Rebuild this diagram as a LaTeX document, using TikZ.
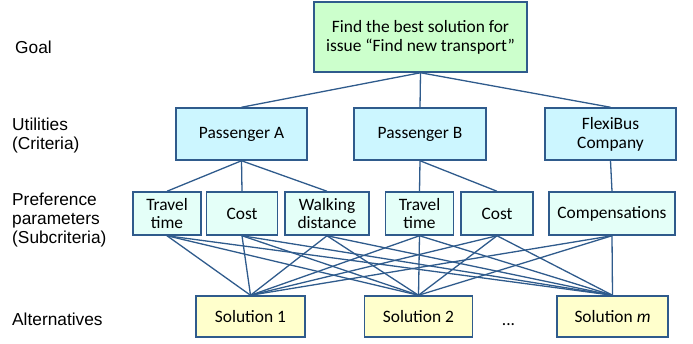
\documentclass[tikz,border=0pt]{standalone}
\usepackage{fontspec}
\setmainfont{Carlito}
\newfontfamily\lblfont{Liberation Sans}
\begin{document}
\begin{tikzpicture}[x=1pt,y=-1pt,
  bx/.style={draw=edgecol, line width=1.5pt, inner sep=0pt, align=center,
    font=\fontsize{17.4}{18.8}\selectfont},
  goalbox/.style={bx, fill=goalfill},
  critbox/.style={bx, fill=critfill, minimum height=52pt},
  subbox/.style={bx, fill=subfill, minimum height=43pt},
  solbox/.style={bx, fill=solfill, minimum height=41pt, minimum width=109pt},
  conn/.style={draw=edgecol, line width=1.3pt},
  lbl/.style={anchor=base west, align=left, inner sep=0pt, font=\lblfont\fontsize{17.3}{19.2}\selectfont}
]
\definecolor{edgecol}{HTML}{2F5B8C}
\definecolor{goalfill}{HTML}{CCFFCC}
\definecolor{critfill}{HTML}{CCF6FF}
\definecolor{subfill}{HTML}{E4FFF8}
\definecolor{solfill}{HTML}{FFFFCC}
\useasboundingbox (0,0) rectangle (693,343);

% left labels (base = baseline of last line)
\node[lbl] (lgoal) at (15,53.3) {Goal};
\node[lbl] (lcrit) at (12,149.5) {Utilities\\(Criteria)};
\node[lbl] (lsub) at (12,243.5) {Preference\\parameters\\(Subcriteria)};
\node[lbl] (lalt) at (12,325) {Alternatives};

% goal
\node[goalbox, minimum width=213pt, minimum height=70pt] (goal) at (420.5,37)
  {Find the best solution for\\issue “Find new transport”};

% criteria
\node[critbox, minimum width=131pt] (pa) at (241.5,134) {Passenger A};
\node[critbox, minimum width=132pt] (pb) at (420,134) {Passenger B};
\node[critbox, minimum width=131pt] (fb) at (610.5,134) {FlexiBus\\Company};

% subcriteria
\node[subbox, minimum width=68pt] (tt1) at (167,213.5) {Travel\\time};
\node[subbox, minimum width=71pt] (c1) at (242,213.5) {Cost};
\node[subbox, minimum width=84pt] (wd) at (327,213.5) {Walking\\distance};
\node[subbox, minimum width=68pt] (tt2) at (419.5,213.5) {Travel\\time};
\node[subbox, minimum width=72pt] (c2) at (497,213.5) {Cost};
\node[subbox, minimum width=126pt] (cp) at (612,213.5) {Compensations};

% solutions
\node[solbox] (s1) at (250.5,316.5) {Solution 1};
\node[solbox, minimum width=108pt] (s2) at (418.5,316.5) {Solution 2};
\node[solbox, minimum width=111pt] (sm) at (612.5,316.5) {Solution \textit{m}};
\node[font=\fontsize{17.4}{19}\selectfont, inner sep=0pt, anchor=base] (dots) at (508.5,325) {...};

% connectors
\foreach \c in {pa,pb,fb} \draw[conn] (goal.south) -- (\c.north);
\foreach \s in {tt1,c1,wd} \draw[conn] (pa.south) -- (\s.north);
\foreach \s in {tt2,c2} \draw[conn] (pb.south) -- (\s.north);
\draw[conn] (fb.south) -- (cp.north);
\foreach \s in {tt1,c1,wd,tt2,c2,cp}
  \foreach \a in {s1,s2,sm}
    \draw[conn] (\s.south) -- (\a.north);
\end{tikzpicture}
\end{document}
